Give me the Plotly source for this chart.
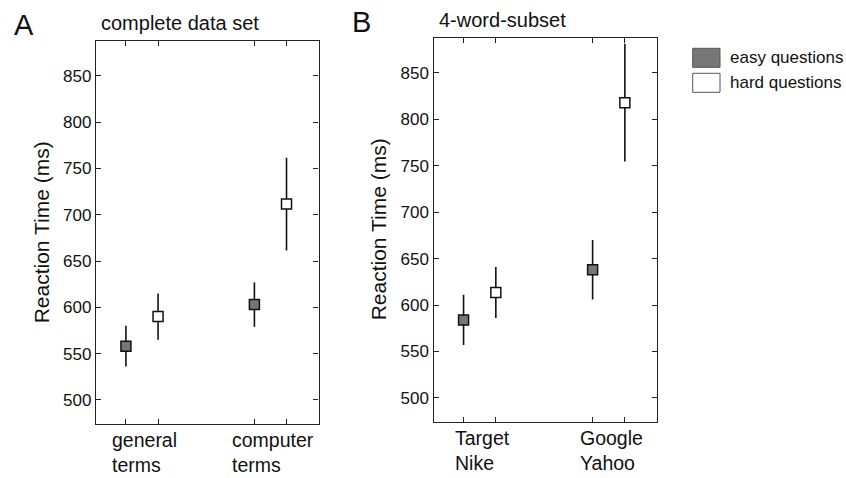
import plotly.graph_objects as go

# ---- data ----
panel_titles = ["complete data set", "4-word-subset"]
panel_letters = ["A", "B"]
categories_A = ["general<br>terms", "computer<br>terms"]
categories_B = ["Target<br>Nike", "Google<br>Yahoo"]
series_names = ["easy questions", "hard questions"]

easy_A = [558, 603]
easy_A_err = [22, 24]
hard_A = [590, 711.5]
hard_A_err = [25, 50]

easy_B = [584, 638]
easy_B_err = [27, 32]
hard_B = [613.5, 818]
hard_B_err = [27.5, 63.5]

y_ticks = [500, 550, 600, 650, 700, 750, 800, 850]
y_range = [474, 888]

FONT = "Liberation Sans, Arial, sans-serif"
colors = ["#777777", "#ffffff"]
offset = 0.125

fig = go.Figure()

panels = [
    (categories_A, [(easy_A, easy_A_err), (hard_A, hard_A_err)], "x", "y"),
    (categories_B, [(easy_B, easy_B_err), (hard_B, hard_B_err)], "x2", "y2"),
]

for cats, series, xa, ya in panels:
    for si, (vals, errs) in enumerate(series):
        xs = [i + 1 + (offset if si == 1 else -offset) for i in range(len(cats))]
        fig.add_trace(go.Scatter(
            x=xs, y=vals, mode="markers", xaxis=xa, yaxis=ya,
            name=series_names[si], showlegend=False,
            marker=dict(symbol="square", size=10, color=colors[si],
                        line=dict(color="#111111", width=1.5)),
            error_y=dict(type="data", array=errs, visible=True,
                         color="#111111", thickness=1.6, width=0),
        ))

tickpos = [1 - offset, 1 + offset, 2 - offset, 2 + offset]
W, H = 846, 478

axis_common = dict(showline=True, linecolor="#222222", linewidth=1.3,
                   mirror="ticks", ticks="inside", ticklen=5,
                   tickcolor="#222222", tickwidth=1.2, showgrid=False,
                   zeroline=False)

fig.update_layout(
    width=W, height=H,
    margin=dict(l=0, r=0, t=0, b=0),
    paper_bgcolor="white", plot_bgcolor="white",
    font=dict(family=FONT, color="#111111"),
    xaxis=dict(domain=[96 / W, 318.5 / W], range=[0.642, 2.374],
               tickvals=tickpos, ticktext=[""] * 4, anchor="y", **axis_common),
    yaxis=dict(domain=[(H - 424) / H, (H - 40.7) / H], range=y_range,
               tickvals=y_ticks, anchor="x", tickfont=dict(size=17),
               **axis_common),
    xaxis2=dict(domain=[433.5 / W, 657 / W], range=[0.642, 2.374],
                tickvals=tickpos, ticktext=[""] * 4, anchor="y2", **axis_common),
    yaxis2=dict(domain=[(H - 422) / H, (H - 37.7) / H], range=y_range,
                tickvals=y_ticks, anchor="x2", tickfont=dict(size=17),
                **axis_common),
)

ann = []
for pi, (cats, xref, yref) in enumerate([(categories_A, "x", "y"),
                                          (categories_B, "x2", "y2")]):
    xdom = "x domain" if xref == "x" else "x2 domain"
    ydom = "y domain" if yref == "y" else "y2 domain"
    # category labels
    for ci, c in enumerate(cats):
        ann.append(dict(text=c, x=ci + 1, xref=xref, y=0, yref=ydom,
                        xanchor="center", yanchor="top", align="left",
                        yshift=-3, xshift=3, showarrow=False,
                        font=dict(size=19.5, family=FONT)))
    # y axis title
    ann.append(dict(text="Reaction Time (ms)", textangle=-90, x=0, xref=xdom,
                    xshift=-55, y=0.5, yref=ydom, xanchor="center",
                    yanchor="middle", showarrow=False,
                    font=dict(size=21, family=FONT)))
    # panel title
    ann.append(dict(text=panel_titles[pi], x=0, xref=xdom, xshift=3,
                    y=1, yref=ydom, yshift=5, xanchor="left", yanchor="bottom",
                    showarrow=False, font=dict(size=20, family=FONT)))
    # panel letter
    ann.append(dict(text=panel_letters[pi], x=0, xref=xdom, xshift=-84,
                    y=1, yref=ydom, yshift=-2, xanchor="left", yanchor="bottom",
                    showarrow=False, font=dict(size=29, family=FONT)))

# legend (manual, rectangular swatches)
shapes = []
legend_x0, legend_x1 = 692.7, 720
legend_y0 = [48.3, 73.3]
for si, name in enumerate(series_names):
    y0 = legend_y0[si]
    shapes.append(dict(type="rect", xref="paper", yref="paper",
                       x0=legend_x0 / W, x1=legend_x1 / W,
                       y0=(H - y0 - 19) / H, y1=(H - y0) / H,
                       fillcolor=colors[si], line=dict(color="#555555", width=1)))
    ann.append(dict(text=name, x=728 / W, xref="paper",
                    y=(H - y0 - 9.5) / H, yref="paper", xanchor="left",
                    yanchor="middle", showarrow=False,
                    font=dict(size=17, family=FONT)))

fig.update_layout(annotations=ann, shapes=shapes)
fig.write_html("out.html",
               config={"displayModeBar": False},
               post_script="document.body.style.margin='0';"
                           "document.body.style.overflow='hidden';")
